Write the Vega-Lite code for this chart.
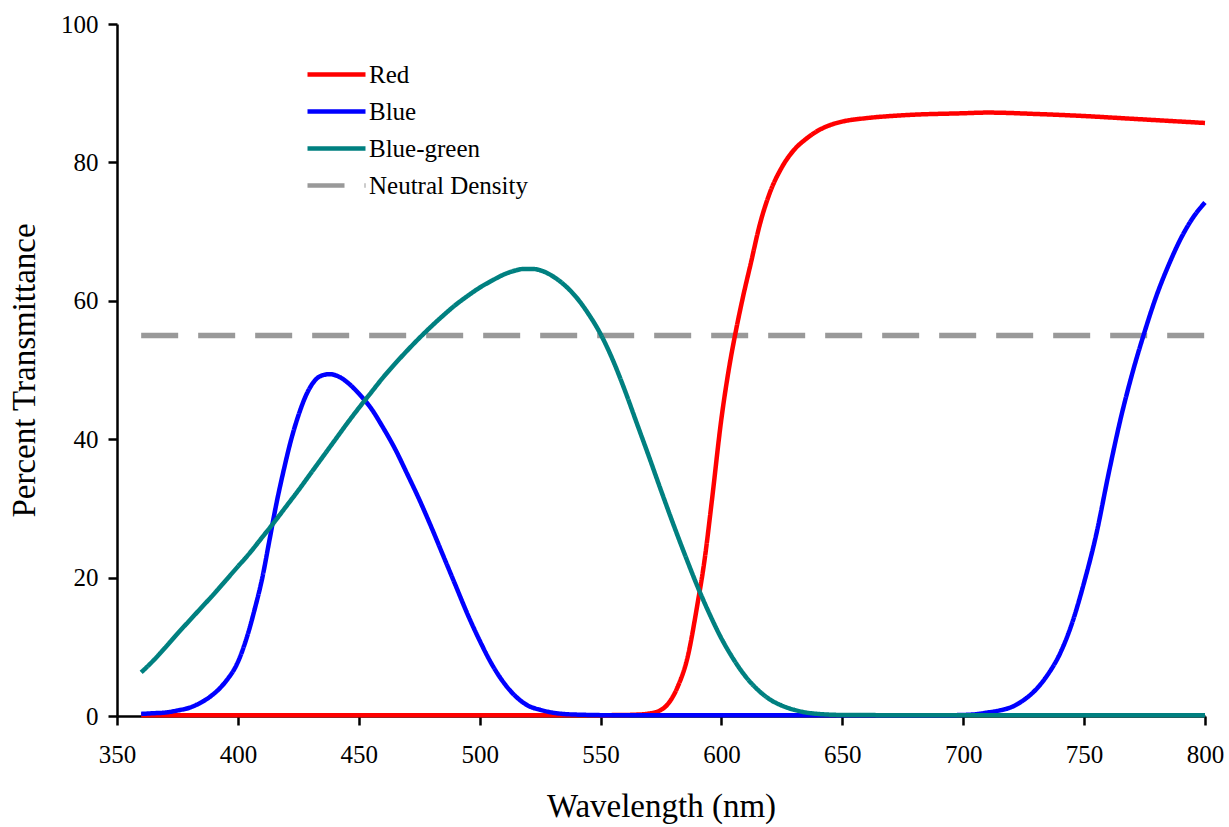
{
  "$schema": "https://vega.github.io/schema/vega-lite/v6.json",
  "width": 1088,
  "height": 692,
  "autosize": {"type": "none"},
  "padding": {"left": 117, "top": 24, "right": 24, "bottom": 111},
  "background": "white",
  "config": {
    "view": {"stroke": null},
    "font": "Liberation Serif",
    "axis": {
      "grid": false,
      "domainColor": "black",
      "domainWidth": 2.5,
      "tickColor": "black",
      "tickWidth": 2.5,
      "tickSize": 9,
      "labelFont": "Liberation Serif",
      "labelFontSize": 25,
      "labelColor": "black",
      "titleFont": "Liberation Serif",
      "titleFontSize": 33,
      "titleFontWeight": "normal",
      "titleColor": "black"
    },
    "legend": {
      "labelFont": "Liberation Serif",
      "labelFontSize": 25,
      "labelColor": "black",
      "symbolType": "stroke",
      "symbolSize": 3364,
      "symbolStrokeWidth": 4.5,
      "labelOffset": 1,
      "rowPadding": 0,
      "clipHeight": 37
    }
  },
  "data": {
    "values": [
      {"filter": "Neutral Density", "nm": 360, "T": 55},
      {"filter": "Neutral Density", "nm": 800, "T": 55},

      {"filter": "Red", "nm": 360, "T": 0.1},
      {"filter": "Red", "nm": 400, "T": 0.1},
      {"filter": "Red", "nm": 450, "T": 0.1},
      {"filter": "Red", "nm": 500, "T": 0.1},
      {"filter": "Red", "nm": 540, "T": 0.1},
      {"filter": "Red", "nm": 560, "T": 0.15},
      {"filter": "Red", "nm": 565, "T": 0.2},
      {"filter": "Red", "nm": 570, "T": 0.35},
      {"filter": "Red", "nm": 574, "T": 0.7},
      {"filter": "Red", "nm": 578, "T": 1.8},
      {"filter": "Red", "nm": 582, "T": 4.3},
      {"filter": "Red", "nm": 586, "T": 8.5},
      {"filter": "Red", "nm": 590, "T": 16},
      {"filter": "Red", "nm": 593, "T": 22.5},
      {"filter": "Red", "nm": 596, "T": 31},
      {"filter": "Red", "nm": 600, "T": 43},
      {"filter": "Red", "nm": 603, "T": 50},
      {"filter": "Red", "nm": 606, "T": 55.7},
      {"filter": "Red", "nm": 609, "T": 60.7},
      {"filter": "Red", "nm": 612, "T": 65.2},
      {"filter": "Red", "nm": 616, "T": 71.2},
      {"filter": "Red", "nm": 620, "T": 75.6},
      {"filter": "Red", "nm": 625, "T": 79.3},
      {"filter": "Red", "nm": 630, "T": 81.8},
      {"filter": "Red", "nm": 635, "T": 83.4},
      {"filter": "Red", "nm": 640, "T": 84.6},
      {"filter": "Red", "nm": 645, "T": 85.4},
      {"filter": "Red", "nm": 650, "T": 85.9},
      {"filter": "Red", "nm": 660, "T": 86.4},
      {"filter": "Red", "nm": 670, "T": 86.7},
      {"filter": "Red", "nm": 680, "T": 86.9},
      {"filter": "Red", "nm": 700, "T": 87.1},
      {"filter": "Red", "nm": 710, "T": 87.2},
      {"filter": "Red", "nm": 730, "T": 87.0},
      {"filter": "Red", "nm": 750, "T": 86.7},
      {"filter": "Red", "nm": 770, "T": 86.3},
      {"filter": "Red", "nm": 785, "T": 86.0},
      {"filter": "Red", "nm": 800, "T": 85.7},

      {"filter": "Blue", "nm": 360, "T": 0.3},
      {"filter": "Blue", "nm": 365, "T": 0.4},
      {"filter": "Blue", "nm": 370, "T": 0.5},
      {"filter": "Blue", "nm": 375, "T": 0.8},
      {"filter": "Blue", "nm": 380, "T": 1.2},
      {"filter": "Blue", "nm": 385, "T": 2.0},
      {"filter": "Blue", "nm": 390, "T": 3.2},
      {"filter": "Blue", "nm": 395, "T": 5.0},
      {"filter": "Blue", "nm": 400, "T": 7.8},
      {"filter": "Blue", "nm": 404, "T": 11.7},
      {"filter": "Blue", "nm": 407, "T": 15.5},
      {"filter": "Blue", "nm": 410, "T": 19.8},
      {"filter": "Blue", "nm": 413, "T": 25.3},
      {"filter": "Blue", "nm": 416, "T": 30.8},
      {"filter": "Blue", "nm": 419, "T": 35.6},
      {"filter": "Blue", "nm": 422, "T": 39.9},
      {"filter": "Blue", "nm": 425, "T": 43.4},
      {"filter": "Blue", "nm": 428, "T": 46.2},
      {"filter": "Blue", "nm": 431, "T": 48.1},
      {"filter": "Blue", "nm": 434, "T": 49.1},
      {"filter": "Blue", "nm": 438, "T": 49.4},
      {"filter": "Blue", "nm": 442, "T": 49.0},
      {"filter": "Blue", "nm": 446, "T": 48.0},
      {"filter": "Blue", "nm": 450, "T": 46.6},
      {"filter": "Blue", "nm": 455, "T": 44.5},
      {"filter": "Blue", "nm": 460, "T": 41.7},
      {"filter": "Blue", "nm": 465, "T": 38.6},
      {"filter": "Blue", "nm": 470, "T": 35.0},
      {"filter": "Blue", "nm": 475, "T": 31.3},
      {"filter": "Blue", "nm": 480, "T": 27.3},
      {"filter": "Blue", "nm": 485, "T": 23.1},
      {"filter": "Blue", "nm": 490, "T": 18.9},
      {"filter": "Blue", "nm": 495, "T": 14.7},
      {"filter": "Blue", "nm": 500, "T": 10.9},
      {"filter": "Blue", "nm": 505, "T": 7.5},
      {"filter": "Blue", "nm": 510, "T": 4.8},
      {"filter": "Blue", "nm": 515, "T": 2.8},
      {"filter": "Blue", "nm": 520, "T": 1.5},
      {"filter": "Blue", "nm": 525, "T": 0.9},
      {"filter": "Blue", "nm": 530, "T": 0.5},
      {"filter": "Blue", "nm": 540, "T": 0.2},
      {"filter": "Blue", "nm": 560, "T": 0.1},
      {"filter": "Blue", "nm": 600, "T": 0.1},
      {"filter": "Blue", "nm": 650, "T": 0.1},
      {"filter": "Blue", "nm": 690, "T": 0.1},
      {"filter": "Blue", "nm": 700, "T": 0.15},
      {"filter": "Blue", "nm": 705, "T": 0.25},
      {"filter": "Blue", "nm": 710, "T": 0.5},
      {"filter": "Blue", "nm": 715, "T": 0.8},
      {"filter": "Blue", "nm": 720, "T": 1.3},
      {"filter": "Blue", "nm": 725, "T": 2.3},
      {"filter": "Blue", "nm": 730, "T": 3.8},
      {"filter": "Blue", "nm": 735, "T": 6.0},
      {"filter": "Blue", "nm": 740, "T": 9.0},
      {"filter": "Blue", "nm": 745, "T": 13.4},
      {"filter": "Blue", "nm": 750, "T": 19.3},
      {"filter": "Blue", "nm": 755, "T": 26.2},
      {"filter": "Blue", "nm": 760, "T": 34.8},
      {"filter": "Blue", "nm": 765, "T": 42.8},
      {"filter": "Blue", "nm": 770, "T": 49.6},
      {"filter": "Blue", "nm": 775, "T": 55.5},
      {"filter": "Blue", "nm": 780, "T": 60.8},
      {"filter": "Blue", "nm": 785, "T": 65.2},
      {"filter": "Blue", "nm": 790, "T": 69.0},
      {"filter": "Blue", "nm": 795, "T": 72.0},
      {"filter": "Blue", "nm": 800, "T": 74.2},

      {"filter": "Blue-green", "nm": 360, "T": 6.3},
      {"filter": "Blue-green", "nm": 365, "T": 8.0},
      {"filter": "Blue-green", "nm": 370, "T": 9.9},
      {"filter": "Blue-green", "nm": 375, "T": 11.9},
      {"filter": "Blue-green", "nm": 380, "T": 13.8},
      {"filter": "Blue-green", "nm": 385, "T": 15.7},
      {"filter": "Blue-green", "nm": 390, "T": 17.6},
      {"filter": "Blue-green", "nm": 395, "T": 19.6},
      {"filter": "Blue-green", "nm": 400, "T": 21.6},
      {"filter": "Blue-green", "nm": 405, "T": 23.6},
      {"filter": "Blue-green", "nm": 410, "T": 25.8},
      {"filter": "Blue-green", "nm": 415, "T": 28.0},
      {"filter": "Blue-green", "nm": 420, "T": 30.3},
      {"filter": "Blue-green", "nm": 425, "T": 32.6},
      {"filter": "Blue-green", "nm": 430, "T": 35.0},
      {"filter": "Blue-green", "nm": 435, "T": 37.4},
      {"filter": "Blue-green", "nm": 440, "T": 39.8},
      {"filter": "Blue-green", "nm": 445, "T": 42.2},
      {"filter": "Blue-green", "nm": 450, "T": 44.5},
      {"filter": "Blue-green", "nm": 455, "T": 46.7},
      {"filter": "Blue-green", "nm": 460, "T": 48.9},
      {"filter": "Blue-green", "nm": 465, "T": 50.9},
      {"filter": "Blue-green", "nm": 470, "T": 52.8},
      {"filter": "Blue-green", "nm": 475, "T": 54.6},
      {"filter": "Blue-green", "nm": 480, "T": 56.3},
      {"filter": "Blue-green", "nm": 485, "T": 57.9},
      {"filter": "Blue-green", "nm": 490, "T": 59.4},
      {"filter": "Blue-green", "nm": 495, "T": 60.7},
      {"filter": "Blue-green", "nm": 500, "T": 61.9},
      {"filter": "Blue-green", "nm": 505, "T": 62.9},
      {"filter": "Blue-green", "nm": 510, "T": 63.8},
      {"filter": "Blue-green", "nm": 515, "T": 64.4},
      {"filter": "Blue-green", "nm": 518, "T": 64.6},
      {"filter": "Blue-green", "nm": 522, "T": 64.6},
      {"filter": "Blue-green", "nm": 526, "T": 64.3},
      {"filter": "Blue-green", "nm": 530, "T": 63.6},
      {"filter": "Blue-green", "nm": 535, "T": 62.3},
      {"filter": "Blue-green", "nm": 540, "T": 60.5},
      {"filter": "Blue-green", "nm": 545, "T": 58.1},
      {"filter": "Blue-green", "nm": 550, "T": 55.2},
      {"filter": "Blue-green", "nm": 555, "T": 51.5},
      {"filter": "Blue-green", "nm": 560, "T": 47.1},
      {"filter": "Blue-green", "nm": 565, "T": 42.3},
      {"filter": "Blue-green", "nm": 570, "T": 37.5},
      {"filter": "Blue-green", "nm": 575, "T": 32.6},
      {"filter": "Blue-green", "nm": 580, "T": 27.8},
      {"filter": "Blue-green", "nm": 585, "T": 23.2},
      {"filter": "Blue-green", "nm": 590, "T": 18.8},
      {"filter": "Blue-green", "nm": 595, "T": 14.8},
      {"filter": "Blue-green", "nm": 600, "T": 11.2},
      {"filter": "Blue-green", "nm": 605, "T": 8.2},
      {"filter": "Blue-green", "nm": 610, "T": 5.7},
      {"filter": "Blue-green", "nm": 615, "T": 3.8},
      {"filter": "Blue-green", "nm": 620, "T": 2.4},
      {"filter": "Blue-green", "nm": 625, "T": 1.5},
      {"filter": "Blue-green", "nm": 630, "T": 0.9},
      {"filter": "Blue-green", "nm": 635, "T": 0.5},
      {"filter": "Blue-green", "nm": 640, "T": 0.3},
      {"filter": "Blue-green", "nm": 650, "T": 0.15},
      {"filter": "Blue-green", "nm": 700, "T": 0.1},
      {"filter": "Blue-green", "nm": 800, "T": 0.1}
    ]
  },
  "encoding": {
    "x": {
      "field": "nm",
      "type": "quantitative",
      "title": "Wavelength (nm)",
      "scale": {"domain": [350, 800], "nice": false, "zero": false},
      "axis": {
        "values": [350, 400, 450, 500, 550, 600, 650, 700, 750, 800],
        "labelPadding": 17,
        "titlePadding": 23,
        "labelFlush": false
      }
    },
    "y": {
      "field": "T",
      "type": "quantitative",
      "title": "Percent Transmittance",
      "scale": {"domain": [0, 100], "nice": false},
      "axis": {
        "values": [0, 20, 40, 60, 80, 100],
        "labelPadding": 10,
        "titlePadding": 19,
        "labelFlush": false
      }
    },
    "color": {
      "field": "filter",
      "type": "nominal",
      "scale": {
        "domain": ["Red", "Blue", "Blue-green", "Neutral Density"],
        "range": ["#ff0000", "#0000ff", "#008080", "#999999"]
      },
      "legend": {"title": null, "orient": "none", "legendX": 188, "legendY": 32}
    },
    "strokeDash": {
      "field": "filter",
      "type": "nominal",
      "scale": {
        "domain": ["Red", "Blue", "Blue-green", "Neutral Density"],
        "range": [[1, 0], [1, 0], [1, 0], [37, 20]]
      },
      "legend": {"title": null, "orient": "none", "legendX": 188, "legendY": 32}
    }
  },
  "layer": [
    {
      "transform": [{"filter": "datum.filter === 'Neutral Density'"}],
      "mark": {"type": "line", "strokeWidth": 5.5}
    },
    {
      "transform": [{"filter": "datum.filter !== 'Neutral Density'"}],
      "mark": {"type": "line", "strokeWidth": 4.5, "interpolate": "monotone"}
    }
  ]
}
